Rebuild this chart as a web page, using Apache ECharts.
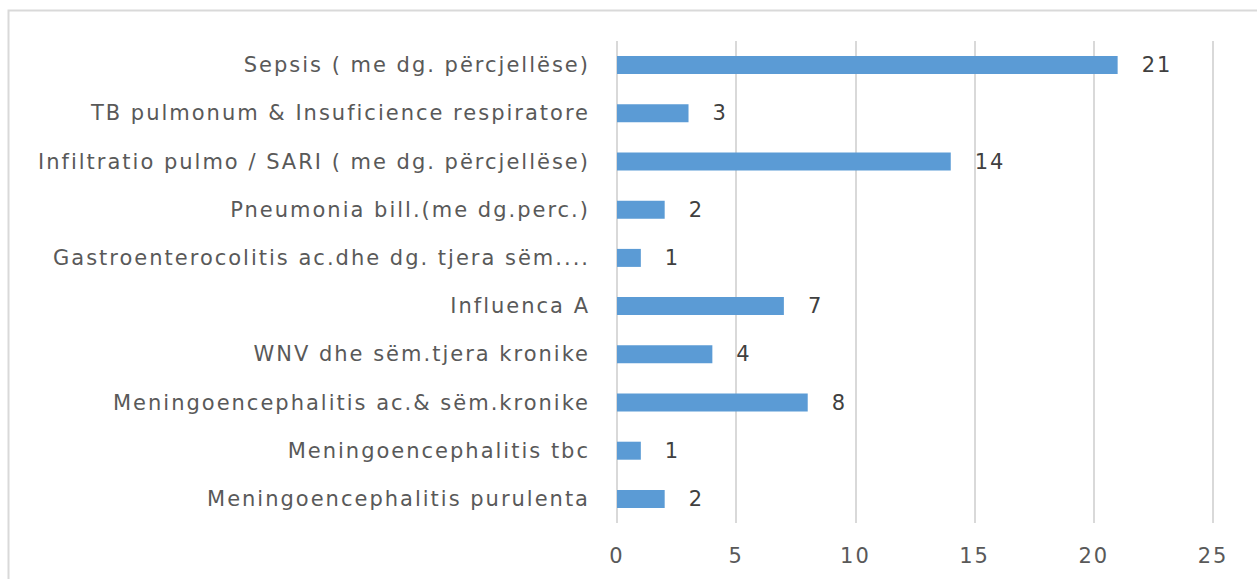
<!DOCTYPE html>
<html lang="en">
<head>
    <meta charset="UTF-8">
    <script src="https://cdn.jsdelivr.net/npm/echarts@6/dist/echarts.min.js"></script>
    <title>Document</title>
    <style>
        html, body { margin: 0; padding: 0; background: #fff; }
        /* teksti ne origjinal eshte me hapesira te gjera midis germave */
        #chart text { letter-spacing: 2px; }
    </style>
</head>
<body>
<div id="chart" style="width:1257px;height:579px;"></div>
<script>
    // kategorite nga poshte lart
    var categories = [
        'Meningoencephalitis purulenta',
        'Meningoencephalitis tbc',
        'Meningoencephalitis ac.& sëm.kronike',
        'WNV dhe sëm.tjera kronike',
        'Influenca A',
        'Gastroenterocolitis ac.dhe dg. tjera sëm....',
        'Pneumonia bill.(me dg.perc.)',
        'Infiltratio pulmo / SARI ( me dg. përcjellëse)',
        'TB pulmonum & Insuficience respiratore',
        'Sepsis ( me dg. përcjellëse)'
    ];
    var values = [2, 1, 8, 4, 7, 1, 2, 14, 3, 21];

    var font = 'DejaVu Sans';
    var myChart = echarts.init(document.getElementById('chart'), null, { renderer: 'svg' });
    var option = {
        backgroundColor: '#ffffff',
        animation: false,
        graphic: [{
            type: 'rect',
            shape: { x: 8.5, y: 10.5, width: 1270, height: 600 },
            style: { fill: 'none', stroke: '#d9d9d9', lineWidth: 2 },
            silent: true
        }],
        grid: { left: 617, right: 44, top: 41, bottom: 56 },
        xAxis: {
            type: 'value',
            min: 0,
            max: 25,
            interval: 5,
            axisLine: { show: false },
            axisTick: { show: false },
            axisLabel: { color: '#595959', fontSize: 21, fontFamily: font, margin: 22 },
            splitLine: { lineStyle: { color: '#d9d9d9', width: 2 } }
        },
        yAxis: {
            type: 'category',
            data: categories,
            axisLine: { show: false },
            axisTick: { show: false },
            axisLabel: { color: '#595959', fontSize: 21, fontFamily: font, margin: 27 }
        },
        series: [{
            type: 'bar',
            data: values,
            barWidth: 18,
            itemStyle: { color: '#5b9bd5' },
            label: {
                show: true,
                position: 'right',
                distance: 24,
                color: '#404040',
                fontSize: 21,
                fontFamily: font
            }
        }]
    };
    myChart.setOption(option);
</script>
</body>
</html>
